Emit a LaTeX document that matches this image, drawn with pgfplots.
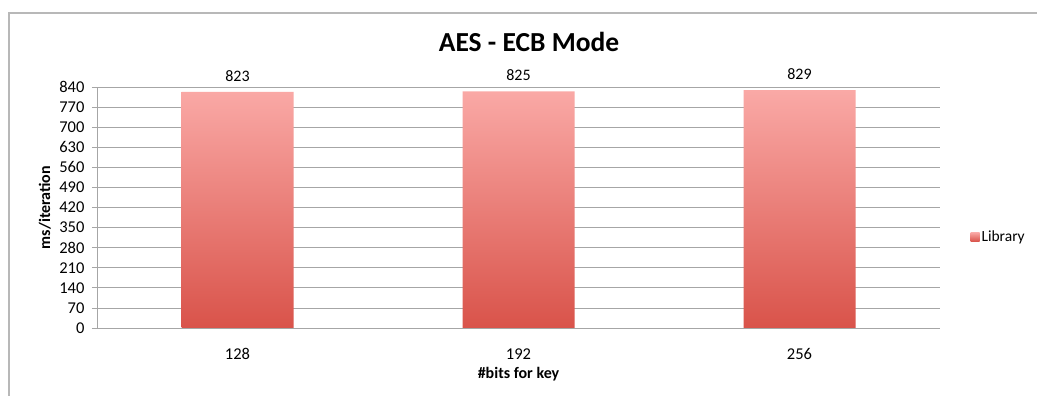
\documentclass[border=0pt]{standalone}
\usepackage{pgfplots}
\pgfplotsset{compat=1.18}
\usepackage{fontspec}
\setmainfont{Carlito}
\definecolor{bartop}{HTML}{FAA9A6}
\definecolor{barbot}{HTML}{D9534A}
\definecolor{gridc}{HTML}{A6A6A6}
\begin{document}
\begin{tikzpicture}[x=1pt,y=1pt]
\useasboundingbox (0,0) rectangle (1037,396);
\fill[white] (0,0) rectangle (1037,396);
\draw[gridc!80, line width=1.2pt] (9,0) -- (9,383) -- (1037,383);
\begin{axis}[
  at={(97pt,68pt)}, anchor=south west,
  scale only axis, width=843pt, height=241pt,
  xmin=-0.5, xmax=2.5, ymin=0, ymax=840,
  ytick={0,70,...,840},
  xtick={0,1,2}, xticklabels={128,192,256},
  extra x ticks={0.5,1.5,2.5},
  extra x tick labels={},
  extra x tick style={major tick length=6pt, tick style={gridc, line width=0.8pt}, tick align=outside},
  x tick style={draw=none},
  y tick style={gridc, line width=0.8pt},
  major tick length=5pt,
  tick align=outside,
  axis x line*=bottom, axis y line*=left,
  axis line style={gridc, line width=0.8pt, -},
  ymajorgrids, grid style={gridc, line width=0.8pt},
  /pgf/number format/assume math mode=true,
  ticklabel style={font=\fontsize{16.5}{18}\selectfont},
  xticklabel style={yshift=-12pt},
  yticklabel style={xshift=-4pt},
  title={\fontsize{27.5}{32}\selectfont\bfseries AES - ECB Mode},
  title style={at={(axis description cs:0.5125,1.162)}, anchor=center},
  xlabel={\fontsize{16}{18}\selectfont\bfseries \#bits for key},
  xlabel style={at={(axis description cs:0.5,-0.191)}, anchor=center},
  ylabel={\fontsize{16}{18}\selectfont\bfseries ms/iteration},
  ylabel style={at={(axis description cs:-0.0617,0.5)}, anchor=center},
  legend style={at={(1.036,0.378)}, anchor=west, draw=none, font=\fontsize{15.5}{17}\selectfont, inner sep=0pt},
  legend cell align=left,
]
\addplot[ybar, bar width=112pt, draw=none, top color=bartop, bottom color=barbot,
  nodes near coords, nodes near coords style={font=\fontsize{16}{18}\selectfont, color=black, anchor=south, yshift=7pt},
  legend image code/.code={\path[top color=bartop, bottom color=barbot] (0pt,-4.5pt) rectangle (9pt,4.5pt);}]
  coordinates {(0,823) (1,825) (2,829)};
\addlegendentry{Library}
\end{axis}
\end{tikzpicture}
\end{document}
